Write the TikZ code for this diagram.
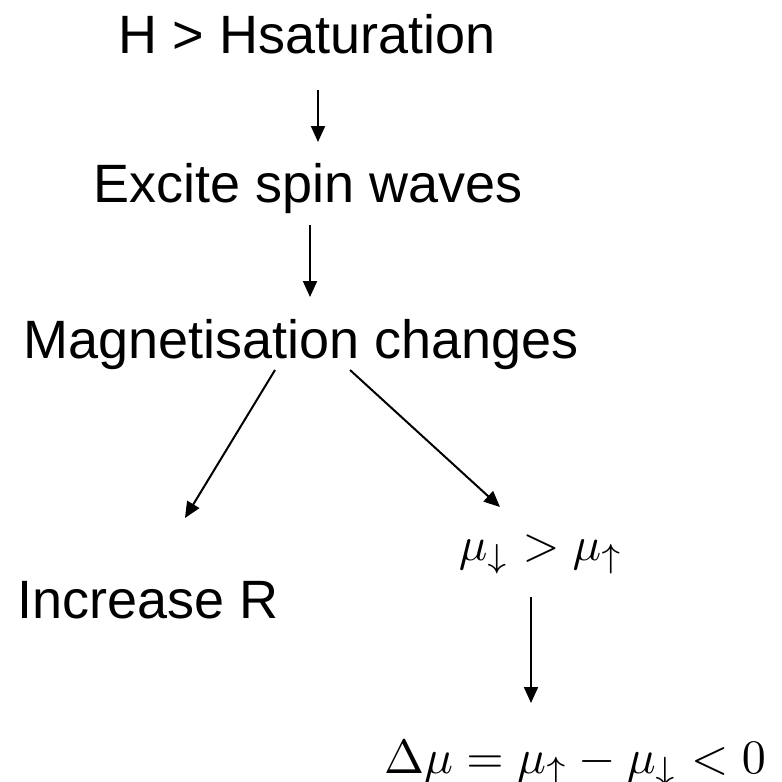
\documentclass[tikz,border=0pt]{standalone}
\usepackage{fontspec}
\setmainfont{Liberation Sans}
\usetikzlibrary{arrows.meta}
\begin{document}
\begin{tikzpicture}[x=1pt,y=-1pt,
  lbl/.style={inner sep=0pt,anchor=base,font=\fontsize{54}{60}\selectfont},
  mth/.style={inner sep=0pt,anchor=base},
  arr/.style={line width=2pt,-{Triangle[length=16pt,width=14pt]}}]
\useasboundingbox (0,0) rectangle (782,782);
\node[lbl] (hs) at (307,53) {H > Hsaturation};
\node[lbl] (ex) at (308,202) {Excite spin waves};
\node[lbl] (mg) at (301,358) {Magnetisation changes};
\node[lbl] (ir) at (148,618) {Increase R};
\node[mth] (mu) at (541,560) {\scalebox{4.75}{$\mu_\downarrow > \mu_\uparrow$}};
\node[mth] (dm) at (575,773) {\scalebox{4.8}{$\Delta\mu = \mu_\uparrow - \mu_\downarrow < 0$}};
\coordinate (a1s) at (318,90);  \coordinate (a1e) at (318,142);
\coordinate (a2s) at (310,225); \coordinate (a2e) at (310,297);
\coordinate (a3s) at (275,370); \coordinate (a3e) at (185,518);
\coordinate (a4s) at (350,370); \coordinate (a4e) at (500,507);
\coordinate (a5s) at (531,597); \coordinate (a5e) at (531,703);
\draw[arr] (a1s) -- (a1e);
\draw[arr] (a2s) -- (a2e);
\draw[arr] (a3s) -- (a3e);
\draw[arr] (a4s) -- (a4e);
\draw[arr] (a5s) -- (a5e);
\end{tikzpicture}
\end{document}
